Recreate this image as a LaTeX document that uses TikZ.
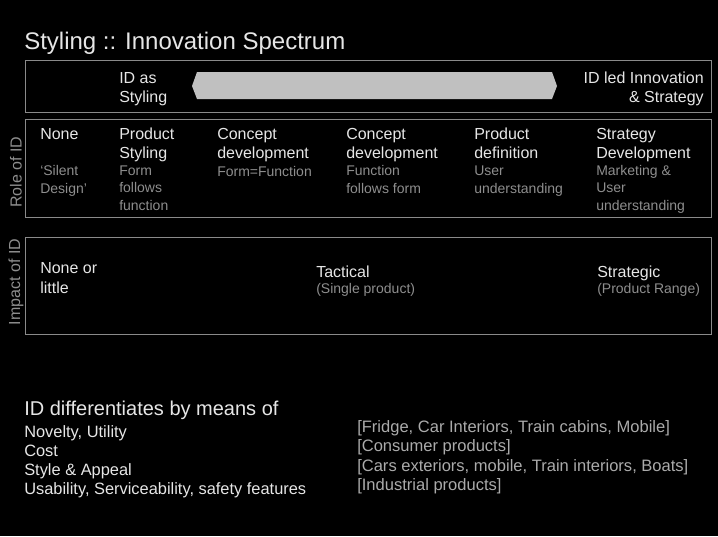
\documentclass[tikz,border=0pt]{standalone}
\usepackage{fontspec}
\setmainfont{Liberation Sans}

\definecolor{maintext}{HTML}{E6E6E6}
\definecolor{subtext}{HTML}{8E8E8E}
\definecolor{listtext}{HTML}{ABABAB}
\definecolor{frame}{HTML}{8A8A8A}
\definecolor{bar}{HTML}{C0C0C0}

\begin{document}
\begin{tikzpicture}[
        x=0.75pt, y=-0.75pt,
        head/.style = {anchor=base west, align=left, inner sep=0pt, text=maintext, font=\fontsize{12}{14.6}\selectfont},
        note/.style = {anchor=base west, align=left, inner sep=0pt, text=subtext, font=\fontsize{10.5}{12.8}\selectfont},
        side/.style = {rotate=90, inner sep=0pt, text=subtext, font=\fontsize{12}{14}\selectfont},
        panel/.style = {draw=frame, line width=0.75pt}
        ]

        \fill[black] (0,0) rectangle (718,536);
        \useasboundingbox (0,0) rectangle (718,536);

        \node (title) at (24,49) [anchor=base west, inner sep=0pt, text=maintext, font=\fontsize{18}{20}\selectfont] {Styling :: Innovation Spectrum};

        % spectrum bar (base = last line)
        \draw[panel] (25,60) rectangle (711,112);
        \fill[bar] (192,86) -- (197,72) -- (552,72) -- (557,86) -- (552,99) -- (197,99) -- cycle;
        \node (styling) at (119,102.5) [head] {ID as\\Styling};
        \node (strategy) at (704,102.5) [head, anchor=base east, align=right] {ID led Innovation\\\& Strategy};

        % role of ID
        \draw[panel] (25,119) rectangle (711,217);
        \node (role) at (16,172) [side] {Role of ID};
        \node (none)      at (40,139)    [head] {None};
        \node (none-n)    at (40,193)    [note] {`Silent\\Design'};
        \node (prod)      at (119,158.5) [head] {Product\\Styling};
        \node (prod-n)    at (119,210)   [note] {Form\\follows\\function};
        \node (concA)     at (217,158.5) [head] {Concept\\development};
        \node (concA-n)   at (217,176)   [note] {Form=Function};
        \node (concB)     at (346,158.5) [head] {Concept\\development};
        \node (concB-n)   at (346,193)   [note] {Function\\follows form};
        \node (defn)      at (474,158.5) [head] {Product\\definition};
        \node (defn-n)    at (474,193)   [note] {User\\understanding};
        \node (strat)     at (596,158.5) [head] {Strategy\\Development};
        \node (strat-n)   at (596,210)   [note] {Marketing \&\\User\\understanding};

        % impact of ID
        \draw[panel] (25,237) rectangle (711,334);
        \node (impact) at (16,282) [side] {Impact of ID};
        \node (little)    at (40,293)  [head] {None or\\little};
        \node (tact)      at (316,277) [head] {Tactical};
        \node (tact-n)    at (316,293) [note] {(Single product)};
        \node (strg)      at (597,277) [head] {Strategic};
        \node (strg-n)    at (597,293) [note] {(Product Range)};

        % differentiators
        \node (means) at (24,415) [head, font=\fontsize{15}{17}\selectfont] {ID differentiates by means of};
        \node (ways) at (24,494) [head, font=\fontsize{12.3}{14.25}\selectfont] {Novelty, Utility\\Cost\\Style \& Appeal\\Usability, Serviceability, safety features};
        \node (areas) at (357,490.5) [head, text=listtext, font=\fontsize{12.4}{14.6}\selectfont] {[Fridge, Car Interiors, Train cabins, Mobile]\\[0pt][Consumer products]\\[0pt][Cars exteriors, mobile, Train interiors, Boats]\\[0pt][Industrial products]};

    \end{tikzpicture}
\end{document}
